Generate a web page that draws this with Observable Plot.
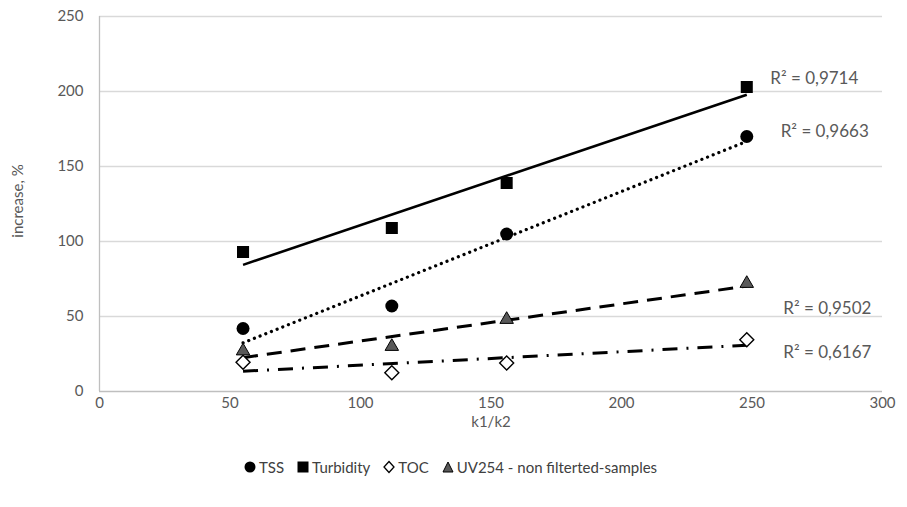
<!DOCTYPE html>
<html>
<head>
<meta charset="utf-8">
<script src="https://cdn.jsdelivr.net/npm/d3@7"></script>
<script src="https://cdn.jsdelivr.net/npm/@observablehq/plot@0.6"></script>
<style>
  html, body { margin: 0; padding: 0; background: #fff; }
  body { width: 907px; height: 507px; overflow: hidden; font-family: Lato, "Open Sans", sans-serif; }
  #legend { display: flex; align-items: center; padding-left: 244px; height: 30px; margin-top: 12px;
            font-size: 15px; color: #404040; }
  #legend .item { display: flex; align-items: center; margin-right: 13px; }
  #legend svg { margin-right: 3px; }
</style>
</head>
<body>
<div id="chart"></div>
<div id="legend"></div>
<script>
// k1/k2 ratio and increase (%) of each parameter
const ratio = [55, 112, 156, 248];
const tss = [42, 57, 105, 170];
const turbidity = [93, 109, 139, 203];
const toc = [19.5, 12.5, 19, 34.5];
const uv254 = [27, 30, 48, 72];

const seriesNames = ["TSS", "Turbidity", "TOC", "UV254 - non filterted-samples"];
const r2Text = ["R² = 0,9714", "R² = 0,9663", "R² = 0,9502", "R² = 0,6167"];

const xTicks = [0, 50, 100, 150, 200, 250, 300];
const yTicks = [0, 50, 100, 150, 200, 250];

const rows = (ys) => ratio.map((x, i) => ({x, y: ys[i]}));
const dTss = rows(tss), dTurb = rows(turbidity), dToc = rows(toc), dUv = rows(uv254);

const grey = "#595959";
const fit = (data, dash, width, cap = "butt") => Plot.linearRegressionY(data, {
  x: "x", y: "y", ci: 0, stroke: "#000", strokeWidth: width,
  strokeDasharray: dash, strokeLinecap: cap
});

// R² annotations, anchored in data coordinates to the right of each trend line
const r2 = [
  {x: 257, y: 208.5, t: r2Text[0]},
  {x: 261, y: 173.5, t: r2Text[1]},
  {x: 262, y: 55.5, t: r2Text[2]},
  {x: 262, y: 26, t: r2Text[3]}
];

const chart = Plot.plot({
  width: 907,
  height: 440,
  marginLeft: 99,
  marginRight: 25,
  marginTop: 16,
  marginBottom: 49,
  style: {fontFamily: "Lato, 'Open Sans', sans-serif", fontSize: "15px", color: grey, background: "#fff"},
  x: {domain: [0, 300], ticks: xTicks, label: null},
  y: {domain: [0, 250], ticks: yTicks, label: null},
  marks: [
    Plot.gridY(yTicks.slice(1), {stroke: "#d9d9d9", strokeOpacity: 1, strokeWidth: 1.3}),
    Plot.ruleY([0], {stroke: "#bfbfbf", strokeWidth: 1.3}),
    Plot.ruleX([0], {stroke: "#bfbfbf", strokeWidth: 1.3}),
    Plot.axisX({ticks: xTicks, tickSize: 0, tickPadding: 6, fill: grey, label: null}),
    Plot.axisY({ticks: yTicks, tickSize: 0, tickPadding: 16, fill: grey, label: null}),
    Plot.text(["increase, %"], {frameAnchor: "left", rotate: -90, textAnchor: "middle", dx: -81, dy: -3, fill: grey, fontSize: 15}),
    Plot.text(["k1/k2"], {frameAnchor: "bottom", lineAnchor: "middle", dy: 31, fill: grey, fontSize: 15}),
    fit(dTurb, null, 2.6),
    fit(dTss, "0.1,6", 3.2, "round"),
    fit(dUv, "15,9", 3),
    fit(dToc, "15,9,2,9", 3),
    Plot.dot(dTss, {x: "x", y: "y", symbol: "circle", r: 6.5, fill: "#000"}),
    Plot.dot(dTurb, {x: "x", y: "y", symbol: "square", r: 6.8, fill: "#000"}),
    Plot.dot(dToc, {x: "x", y: "y", symbol: "diamond2", r: 6.3, fill: "#fff", stroke: "#000", strokeWidth: 1.4}),
    Plot.dot(dUv, {x: "x", y: "y", symbol: "triangle", r: 5, fill: grey, stroke: "#000", strokeWidth: 1}),
    Plot.text(r2, {x: "x", y: "y", text: "t", textAnchor: "start", fill: grey, fontSize: 17})
  ]
});
document.getElementById("chart").appendChild(chart);

// Legend below the chart
const legendMarks = [
  '<circle cx="6" cy="7" r="5.5" fill="#000"/>',
  '<rect x="0.5" y="1.5" width="11" height="11" fill="#000"/>',
  '<path d="M6 1.5 L11 7 L6 12.5 L1 7 Z" fill="#fff" stroke="#000" stroke-width="1.3"/>',
  '<path d="M6 2 L11 12 L1 12 Z" fill="' + grey + '" stroke="#000" stroke-width="1"/>'
];
const legend = document.getElementById("legend");
seriesNames.forEach((name, i) => {
  const item = document.createElement("div");
  item.className = "item";
  item.innerHTML = '<svg width="12" height="14">' + legendMarks[i] + '</svg><span>' + name + '</span>';
  legend.appendChild(item);
});
</script>
</body>
</html>
